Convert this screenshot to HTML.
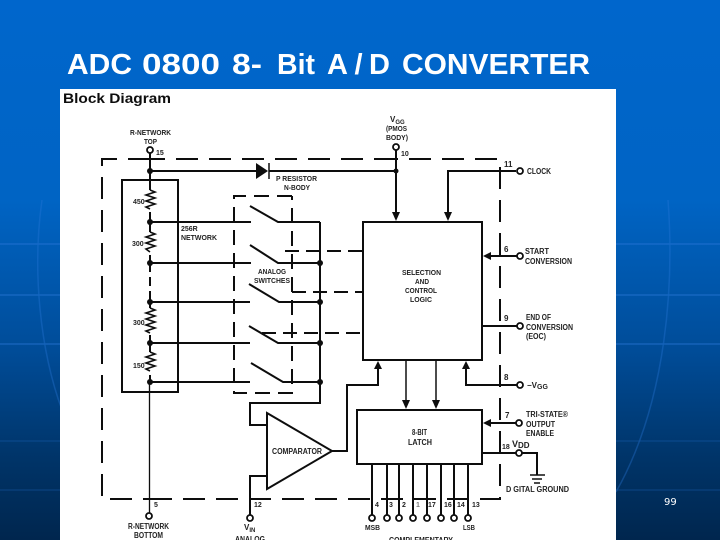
<!DOCTYPE html>
<html>
<head>
<meta charset="utf-8">
<style>
html,body{margin:0;padding:0;width:720px;height:540px;overflow:hidden;background:#0066cc;}
svg{display:block;}
.l{font-family:"Liberation Sans",sans-serif;font-weight:bold;font-size:8px;fill:#222;}
.t{font-family:"Liberation Sans",sans-serif;font-weight:bold;font-size:29px;fill:#fff;}
</style>
</head>
<body>
<svg width="720" height="540" viewBox="0 0 720 540" xmlns="http://www.w3.org/2000/svg">
<defs>
<linearGradient id="bg" x1="0" y1="0" x2="0" y2="1">
<stop offset="0" stop-color="#0066cc"/>
<stop offset="0.37" stop-color="#0064c4"/>
<stop offset="0.65" stop-color="#004c98"/>
<stop offset="0.85" stop-color="#003468"/>
<stop offset="1" stop-color="#00264e"/>
</linearGradient>
<filter id="soft" x="0" y="0" width="100%" height="100%"><feGaussianBlur stdDeviation="0.3"/></filter>
</defs>
<rect width="720" height="540" fill="url(#bg)"/>
<g stroke="#2a78d8" stroke-width="1.5" fill="none" opacity=".5">
<path d="M0 244H720M0 295H720M0 344H720"/>
<path d="M0 441H720M0 490H720" opacity=".45"/>
<path d="M668 200C674 280 668 400 616 492" opacity=".7"/>
<path d="M42 200C32 270 40 350 62 410" opacity=".7"/>
</g>
<text class="t" x="67" y="74" textLength="65" lengthAdjust="spacingAndGlyphs">ADC</text>
<text class="t" x="142" y="74" textLength="78" lengthAdjust="spacingAndGlyphs">0800</text>
<text class="t" x="232" y="74" textLength="30" lengthAdjust="spacingAndGlyphs">8-</text>
<text class="t" x="277" y="74" textLength="38" lengthAdjust="spacingAndGlyphs">Bit</text>
<text class="t" x="327" y="74" textLength="63" lengthAdjust="spacing">A/D</text>
<text class="t" x="402" y="74" textLength="188" lengthAdjust="spacingAndGlyphs">CONVERTER</text>
<text x="664" y="505" font-family="'DejaVu Sans',sans-serif" font-size="10" fill="#fff">99</text>
<rect x="60" y="89" width="556" height="451" fill="#fff"/>
<g filter="url(#soft)">
<text x="63" y="103" font-family="'Liberation Sans',sans-serif" font-weight="bold" font-size="14" fill="#111" textLength="108" lengthAdjust="spacingAndGlyphs">Block Diagram</text>

<g fill="none" stroke="#111" stroke-width="2">
<path d="M150 159H102V499H150M150 499H500V159H396M396 159H150" stroke-dasharray="22 11"/>
<path d="M292 196H234V393H292V196" stroke-dasharray="15 8"/>
<path d="M285 251H363M292 292H363M262 333H363" stroke-dasharray="14 7"/>
<rect x="122" y="180" width="56" height="212"/>
<path d="M150 153V190M150 212V232M150 255V263M150 335V352M150 375V382"/>
<path d="M150 263V302" stroke-dasharray="9 5"/>
<path d="M150 302V308"/>
<path d="M150 190l5 2-9 3 9 3-9 3 9 3-9 3 4 2v0" stroke-width="1.6"/>
<path d="M150 232l5 2-9 3 9 3-9 3 9 3-9 3 4 3" stroke-width="1.6"/>
<path d="M150 308l5 2-9 3 9 3-9 3 9 3-9 3 9 3-9 3 4 2" stroke-width="1.6"/>
<path d="M150 352l5 2-9 3 9 3-9 3 9 3-9 3 4 2" stroke-width="1.6"/>
<path d="M149.500 382V513" stroke-width="1.300"/>
<path d="M150 171H258M269 171H396"/>
<path d="M269 163V179" stroke-width="1.500"/>
<path d="M396 150V214M448 214V171H516"/>
<path d="M150 222H251M250 206L278 222H320"/>
<path d="M150 263H251M250 245L278 263H320"/>
<path d="M150 302H250M249 284L279 302H320"/>
<path d="M150 343H250M249 326L278 343H320"/>
<path d="M150 382H250M251 363L283 382H320"/>
<path d="M320 222V403H250V425H267"/>
<path d="M250 515V476H267"/>
<rect x="363" y="222" width="119" height="138"/>
<rect x="357" y="410" width="125" height="54"/>
<polygon points="267,413 332,451 267,489"/>
<path d="M332 451H347V385H378V367"/>
<path d="M489 256H517M482 326H517M466 367V385H517M489 423H517M482 453H516M522 453H537V475"/>
<path d="M406 360V402M436 360V402" stroke-width="1.500"/>
<path d="M372 464V515M387 464V515M399 464V515M413 464V515M427 464V515M441 464V515M454 464V515M468 464V515"/>
<path d="M530 475H545M532 479H542M534 483H540" stroke-width="1.600"/>
</g>

<g fill="#111">
<polygon points="256,163 268,171 256,179"/>
<circle cx="150" cy="171" r="3"/><circle cx="396" cy="171" r="2.500"/>
<circle cx="150" cy="222" r="3"/><circle cx="150" cy="263" r="3"/><circle cx="150" cy="302" r="3"/><circle cx="150" cy="343" r="3"/><circle cx="150" cy="382" r="3"/>
<circle cx="320" cy="263" r="3"/><circle cx="320" cy="302" r="3"/><circle cx="320" cy="343" r="3"/><circle cx="320" cy="382" r="3"/>
<polygon points="392,212 400,212 396,221"/>
<polygon points="444,212 452,212 448,221"/>
<polygon points="491,252 491,260 483,256"/>
<polygon points="491,419 491,427 483,423"/>
<polygon points="374,369 382,369 378,361"/>
<polygon points="462,369 470,369 466,361"/>
<polygon points="402,400 410,400 406,409"/>
<polygon points="432,400 440,400 436,409"/>
</g>

<g fill="#fff" stroke="#111" stroke-width="1.800">
<circle cx="150" cy="150" r="3"/><circle cx="396" cy="147" r="3"/><circle cx="520" cy="171" r="3"/><circle cx="520" cy="256" r="3"/><circle cx="520" cy="326" r="3"/><circle cx="520" cy="385" r="3"/><circle cx="519" cy="423" r="3"/><circle cx="519" cy="453" r="3"/>
<circle cx="149" cy="516" r="3"/><circle cx="250" cy="518" r="3"/>
<circle cx="372" cy="518" r="3"/><circle cx="387" cy="518" r="3"/><circle cx="399" cy="518" r="3"/><circle cx="413" cy="518" r="3"/><circle cx="427" cy="518" r="3"/><circle cx="441" cy="518" r="3"/><circle cx="454" cy="518" r="3"/><circle cx="468" cy="518" r="3"/>
</g>

<g class="l">
<text class="l" x="130" y="135" textLength="41" lengthAdjust="spacingAndGlyphs" style="font-size:7px">R-NETWORK</text>
<text class="l" x="144" y="144" textLength="13" lengthAdjust="spacingAndGlyphs" style="font-size:7px">TOP</text>
<text class="l" x="156" y="155" style="font-size:7px">15</text>
<text class="l" x="133" y="204" style="font-size:7px">450</text>
<text class="l" x="132" y="246" style="font-size:7px">300</text>
<text class="l" x="133" y="325" style="font-size:7px">300</text>
<text class="l" x="133" y="368" style="font-size:7px">150</text>
<text class="l" x="181" y="231" style="font-size:7px">256R</text>
<text class="l" x="181" y="240" textLength="36" lengthAdjust="spacingAndGlyphs" style="font-size:7px">NETWORK</text>
<text class="l" x="276" y="181" textLength="41" lengthAdjust="spacingAndGlyphs" style="font-size:7px">P RESISTOR</text>
<text class="l" x="284" y="190" textLength="26" lengthAdjust="spacingAndGlyphs" style="font-size:7px">N-BODY</text>
<text class="l" x="258" y="274" textLength="28" lengthAdjust="spacingAndGlyphs" style="font-size:7px">ANALOG</text>
<text class="l" x="254" y="283" textLength="36" lengthAdjust="spacingAndGlyphs" style="font-size:7px">SWITCHES</text>
<text class="l" x="390" y="122" style="font-size:8px">V<tspan font-size="6" dy="2">GG</tspan></text>
<text class="l" x="386" y="131" textLength="21" lengthAdjust="spacingAndGlyphs" style="font-size:7px">(PMOS</text>
<text class="l" x="386" y="140" textLength="22" lengthAdjust="spacingAndGlyphs" style="font-size:7px">BODY)</text>
<text class="l" x="401" y="156" style="font-size:7px">10</text>
<text class="l" x="504" y="167" style="font-size:8px">11</text>
<text class="l" x="527" y="174" textLength="24" lengthAdjust="spacingAndGlyphs" style="font-size:8px">CLOCK</text>
<text class="l" x="504" y="252" style="font-size:8px">6</text>
<text class="l" x="525" y="254" textLength="24" lengthAdjust="spacingAndGlyphs" style="font-size:8px">START</text>
<text class="l" x="525" y="264" textLength="47" lengthAdjust="spacingAndGlyphs" style="font-size:8px">CONVERSION</text>
<text class="l" x="402" y="275" textLength="39" lengthAdjust="spacingAndGlyphs" style="font-size:7px">SELECTION</text>
<text class="l" x="415" y="284" textLength="14" lengthAdjust="spacingAndGlyphs" style="font-size:7px">AND</text>
<text class="l" x="405" y="293" textLength="32" lengthAdjust="spacingAndGlyphs" style="font-size:7px">CONTROL</text>
<text class="l" x="410" y="302" textLength="22" lengthAdjust="spacingAndGlyphs" style="font-size:7px">LOGIC</text>
<text class="l" x="504" y="321" style="font-size:8px">9</text>
<text class="l" x="526" y="320" textLength="25" lengthAdjust="spacingAndGlyphs" style="font-size:8px">END OF</text>
<text class="l" x="526" y="330" textLength="47" lengthAdjust="spacingAndGlyphs" style="font-size:8px">CONVERSION</text>
<text class="l" x="526" y="339" textLength="20" lengthAdjust="spacingAndGlyphs" style="font-size:8px">(EOC)</text>
<text class="l" x="504" y="380" style="font-size:8px">8</text>
<text class="l" x="527" y="388" style="font-size:8px">−V<tspan font-size="7" dy="1">GG</tspan></text>
<text class="l" x="505" y="418" style="font-size:8px">7</text>
<text class="l" x="526" y="417" textLength="42" lengthAdjust="spacingAndGlyphs" style="font-size:8px">TRI-STATE®</text>
<text class="l" x="526" y="427" textLength="29" lengthAdjust="spacingAndGlyphs" style="font-size:8px">OUTPUT</text>
<text class="l" x="526" y="436" textLength="28" lengthAdjust="spacingAndGlyphs" style="font-size:8px">ENABLE</text>
<text class="l" x="502" y="449" style="font-size:7px">18</text>
<text class="l" x="512" y="447" style="font-size:9px">V<tspan font-size="8" dy="1">DD</tspan></text>
<text class="l" x="506" y="492" textLength="63" lengthAdjust="spacingAndGlyphs" style="font-size:8px">D GITAL GROUND</text>
<text class="l" x="272" y="454" textLength="50" lengthAdjust="spacingAndGlyphs" style="font-size:8px">COMPARATOR</text>
<text class="l" x="412" y="435" style="font-size:8px" textLength="15" lengthAdjust="spacingAndGlyphs">8-BIT</text>
<text class="l" x="408" y="445" style="font-size:8px" textLength="24" lengthAdjust="spacingAndGlyphs">LATCH</text>
<text class="l" x="154" y="507" style="font-size:7px">5</text>
<text class="l" x="254" y="507" style="font-size:7px">12</text>
<text class="l" x="128" y="529" textLength="41" lengthAdjust="spacingAndGlyphs" style="font-size:8px">R-NETWORK</text>
<text class="l" x="134" y="538" textLength="29" lengthAdjust="spacingAndGlyphs" style="font-size:8px">BOTTOM</text>
<text class="l" x="244" y="530" style="font-size:8px">V<tspan font-size="6" dy="2">IN</tspan></text>
<text class="l" x="235" y="542" textLength="30" lengthAdjust="spacingAndGlyphs" style="font-size:8px">ANALOG</text>
<text class="l" x="375" y="507" style="font-size:7px">4</text>
<text class="l" x="389" y="507" style="font-size:7px">3</text>
<text class="l" x="402" y="507" style="font-size:7px">2</text>
<text class="l" x="416" y="507" style="font-size:7px" fill-opacity=".6">1</text>
<text class="l" x="428" y="507" style="font-size:7px">17</text>
<text class="l" x="444" y="507" style="font-size:7px">16</text>
<text class="l" x="457" y="507" style="font-size:7px">14</text>
<text class="l" x="472" y="507" style="font-size:7px">13</text>
<text class="l" x="365" y="530" textLength="15" lengthAdjust="spacingAndGlyphs" style="font-size:7px">MSB</text>
<text class="l" x="463" y="530" textLength="12" lengthAdjust="spacingAndGlyphs" style="font-size:7px">LSB</text>
<text class="l" x="389" y="543" textLength="64" lengthAdjust="spacingAndGlyphs" style="font-size:8px">COMPLEMENTARY</text>
</g>
</g>
</svg>
</body>
</html>
